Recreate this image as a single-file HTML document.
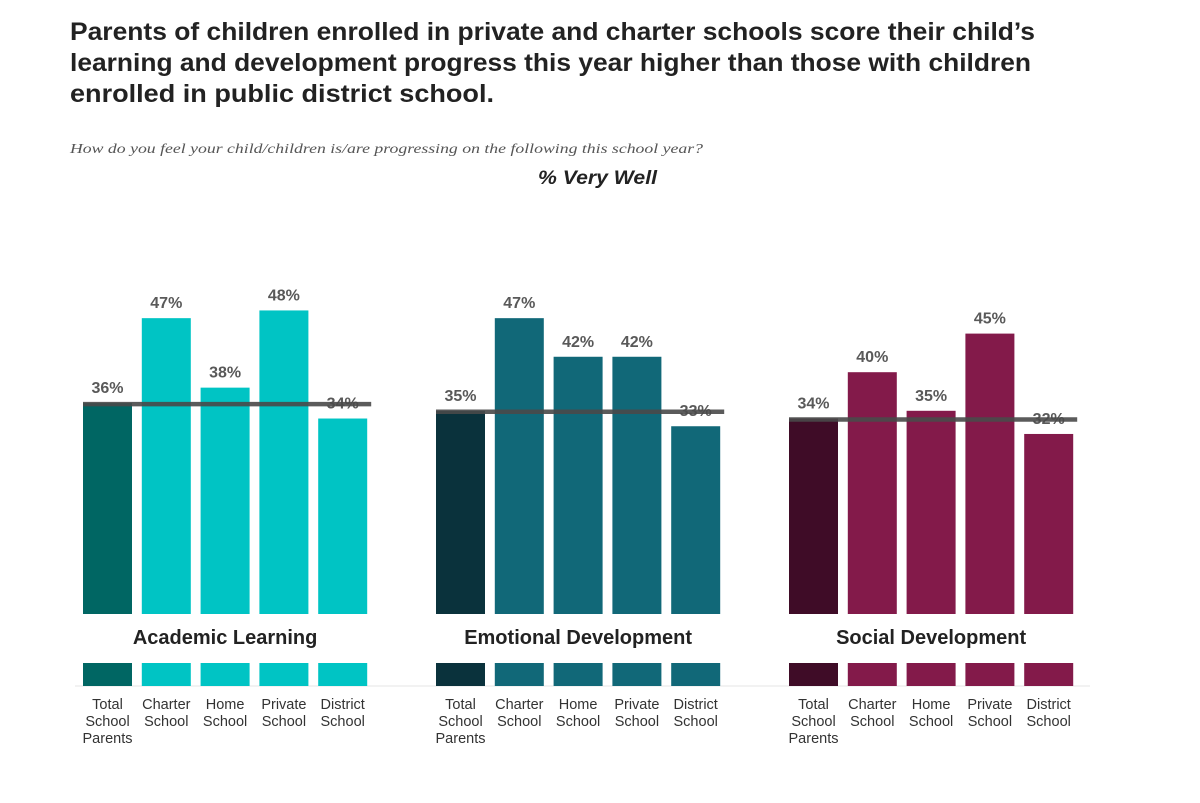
<!DOCTYPE html>
<html><head><meta charset="utf-8"><style>
body{margin:0;background:#fff;width:1200px;height:798px;overflow:hidden;font-family:"Liberation Sans",sans-serif}
</style></head><body>
<svg width="1200" height="798" xmlns="http://www.w3.org/2000/svg">
<text x="70" y="40" font-size="25" font-weight="bold" fill="#222" textLength="965" lengthAdjust="spacingAndGlyphs">Parents of children enrolled in private and charter schools score their child’s</text>
<text x="70" y="71" font-size="25" font-weight="bold" fill="#222" textLength="961" lengthAdjust="spacingAndGlyphs">learning and development progress this year higher than those with children</text>
<text x="70" y="102" font-size="25" font-weight="bold" fill="#222" textLength="424" lengthAdjust="spacingAndGlyphs">enrolled in public district school.</text>
<text x="70" y="153" font-size="14" font-style="italic" fill="#555" font-family="Liberation Serif,serif" textLength="633" lengthAdjust="spacingAndGlyphs">How do you feel your child/children is/are progressing on the following this school year?</text>
<text x="538" y="184" font-size="19" font-weight="bold" font-style="italic" fill="#222" textLength="119" lengthAdjust="spacingAndGlyphs">% Very Well</text>
<line x1="75" y1="686" x2="1090" y2="686" stroke="#eee" stroke-width="1.5"/>
<g id="plot"></g>
</svg>
<script>
const groups=["Academic Learning","Emotional Development","Social Development"];
const categories=["Total School Parents","Charter School","Home School","Private School","District School"];
const academic=[36,47,38,48,34];
const emotional=[35,47,42,42,33];
const social=[34,40,35,45,32];
const series=[academic,emotional,social];
const colors=[["#006663","#00c4c4"],["#0a323c","#116878"],["#3f0c27","#831a4a"]];
const groupX=[83,436,789];
const step=58.8, bw=49, base=614;
function y(v){return 681-v*7.72;}
const NS="http://www.w3.org/2000/svg";
const plot=document.getElementById('plot');
function mk(t,a,txt){const e=document.createElementNS(NS,t);for(const k in a)e.setAttribute(k,a[k]);if(txt!=null)e.textContent=txt;plot.appendChild(e);return e;}
series.forEach((vals,g)=>{
  const gx=groupX[g];
  vals.forEach((v,i)=>{
    const x=gx+i*step;
    const col=i===0?colors[g][0]:colors[g][1];
    const r=mk('rect',{x:x,y:y(v),width:bw,height:base-y(v),fill:col});
    
    
    const t=mk('text',{x:x+bw/2,y:y(v)-10,'font-size':16,'font-weight':'bold',fill:'#595959','text-anchor':'middle'},v+'%');
    
    
    const s=mk('rect',{x:x,y:663,width:bw,height:23,fill:col});
    
    
    const words=categories[i].split(' ');
    words.forEach((w,k)=>{
      const lt=mk('text',{x:x+bw/2,y:709+k*17,'font-size':14.5,fill:'#333','text-anchor':'middle'},w);
      
      
    });
  });
  const ln=mk('line',{x1:gx,x2:gx+4*step+bw+4,y1:y(vals[0])+1,y2:y(vals[0])+1,stroke:'#4a4a4a','stroke-width':4.5,opacity:0.9});
  
  
  const gt=mk('text',{x:gx+(4*step+bw)/2,y:644,'font-size':20,'font-weight':'bold',fill:'#222','text-anchor':'middle'},groups[g]);
  
  
});
</script>
</body></html>
